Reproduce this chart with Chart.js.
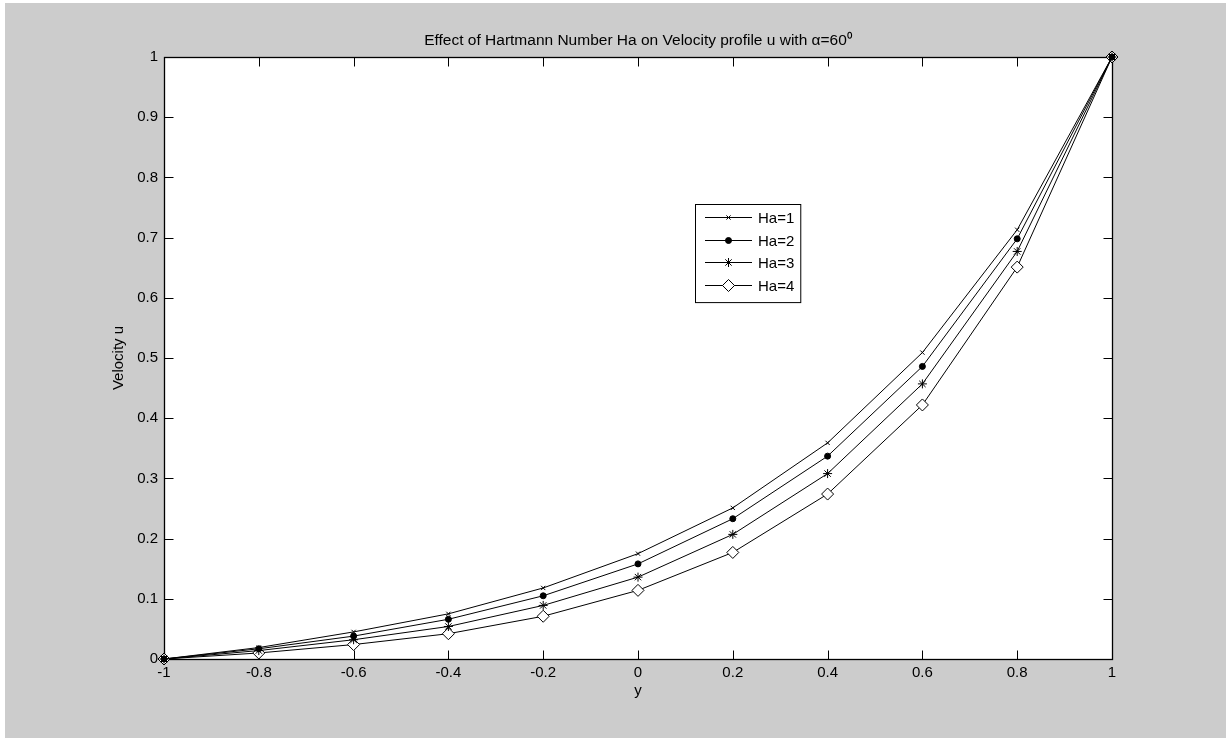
<!DOCTYPE html>
<html>
<head>
<meta charset="utf-8">
<script src="https://cdn.jsdelivr.net/npm/chart.js@4.4.1/dist/chart.umd.min.js"></script>
<style>
  html, body { margin: 0; padding: 0; background: #ffffff; }
  #wrap { position: absolute; left: 0; top: 0; width: 1226px; height: 738px; }
</style>
</head>
<body>
<div id="wrap"><canvas id="myChart"></canvas></div>
<script>
// data
var yPos = [-1, -0.8, -0.6, -0.4, -0.2, 0, 0.2, 0.4, 0.6, 0.8, 1];
var ha1 = [0, 0.019, 0.045, 0.075, 0.118, 0.175, 0.251, 0.359, 0.509, 0.713, 1];
var ha2 = [0, 0.017, 0.038, 0.066, 0.105, 0.158, 0.233, 0.337, 0.486, 0.698, 1];
var ha3 = [0, 0.014, 0.032, 0.054, 0.089, 0.136, 0.207, 0.308, 0.457, 0.677, 1];
var ha4 = [0, 0.010, 0.024, 0.042, 0.071, 0.114, 0.177, 0.274, 0.422, 0.651, 1];
var seriesLabels = ["Ha=1", "Ha=2", "Ha=3", "Ha=4"];
var xTicks = [-1, -0.8, -0.6, -0.4, -0.2, 0, 0.2, 0.4, 0.6, 0.8, 1];
var yTicks = [0, 0.1, 0.2, 0.3, 0.4, 0.5, 0.6, 0.7, 0.8, 0.9, 1];

var FONT = "'Liberation Sans', Arial, Helvetica, sans-serif";
var FS = 15;

const toPoints = function(vals){
    return yPos.map(function(x, i){ return {x: x, y: vals[i]}; });
};

var markers = [
    {pointStyle: "crossRot", radius: 3, bg: "#000000"},
    {pointStyle: "circle", radius: 3, bg: "#000000"},
    {pointStyle: "star", radius: 4.5, bg: "#000000"},
    {pointStyle: "rectRot", radius: 6, bg: "#ffffff"}
];

var allSeries = [ha1, ha2, ha3, ha4];
var datasets = allSeries.map(function(vals, i){
    return {
        label: seriesLabels[i],
        data: toPoints(vals),
        borderColor: "#000000",
        borderWidth: 1,
        tension: 0,
        clip: false,
        pointStyle: markers[i].pointStyle,
        pointRadius: markers[i].radius,
        pointHoverRadius: markers[i].radius,
        pointBackgroundColor: markers[i].bg,
        pointBorderColor: "#000000",
        pointBorderWidth: 1
    };
});

// grey figure + white axes background
const figureBg = {
    id: "figureBg",
    beforeDraw: function(chart){
        var ctx = chart.ctx, a = chart.chartArea;
        ctx.save();
        ctx.fillStyle = "#cccccc";
        ctx.fillRect(5, 3, chart.width - 5, chart.height - 3);
        ctx.fillStyle = "#ffffff";
        ctx.fillRect(a.left, a.top, a.right - a.left, a.bottom - a.top);
        ctx.restore();
    }
};

// matlab style box with inward ticks on all sides
const axesBox = {
    id: "axesBox",
    beforeDatasetsDraw: function(chart){
        var ctx = chart.ctx, a = chart.chartArea;
        var xs = chart.scales.x, ys = chart.scales.y;
        var L = Math.round(a.left) + 0.5, R = Math.round(a.right) + 0.5;
        var T = Math.round(a.top) + 0.5, B = Math.round(a.bottom) + 0.5;
        var tl = 9;
        ctx.save();
        ctx.strokeStyle = "#000000";
        ctx.lineWidth = 1;
        ctx.beginPath();
        xTicks.forEach(function(v){
            var px = Math.round(xs.getPixelForValue(v)) + 0.5;
            ctx.moveTo(px, B); ctx.lineTo(px, B - tl);
            ctx.moveTo(px, T); ctx.lineTo(px, T + tl);
        });
        yTicks.forEach(function(v){
            var py = Math.round(ys.getPixelForValue(v)) + 0.5;
            ctx.moveTo(L, py); ctx.lineTo(L + tl, py);
            ctx.moveTo(R, py); ctx.lineTo(R - tl, py);
        });
        ctx.stroke();
        ctx.lineWidth = 1.3;
        ctx.strokeRect(L, T, R - L, B - T);
        ctx.restore();
    }
};

// legend box inside the axes
const boxLegend = {
    id: "boxLegend",
    afterDraw: function(chart){
        var ctx = chart.ctx;
        var left = 695, top = 204, rowH = 22.7, first = 217;
        ctx.save();
        ctx.font = FS + "px " + FONT;
        var tw = 0;
        seriesLabels.forEach(function(s){ tw = Math.max(tw, ctx.measureText(s).width); });
        var right = 758 + tw + 6;
        var bottom = first + rowH * 3 + 17;
        ctx.fillStyle = "#ffffff";
        ctx.fillRect(left, top, right - left, bottom - top);
        ctx.strokeStyle = "#000000";
        ctx.lineWidth = 1;
        ctx.strokeRect(left + 0.5, top + 0.5, right - left, bottom - top);
        chart.data.datasets.forEach(function(ds, i){
            var y = Math.round(first + rowH * i) + 0.5;
            ctx.beginPath();
            ctx.moveTo(705, y); ctx.lineTo(752, y);
            ctx.strokeStyle = "#000000";
            ctx.lineWidth = 1;
            ctx.stroke();
            ctx.fillStyle = ds.pointBackgroundColor;
            Chart.helpers.drawPoint(ctx, {
                pointStyle: ds.pointStyle,
                radius: ds.pointRadius,
                borderWidth: 1,
                rotation: 0
            }, 728.5, y);
            ctx.fillStyle = "#000000";
            ctx.textAlign = "left";
            ctx.textBaseline = "middle";
            ctx.fillText(ds.label, 758, y + 1);
        });
        ctx.restore();
    }
};

Chart.defaults.font.family = FONT;
Chart.defaults.font.size = FS;
Chart.defaults.color = "#000000";

new Chart("myChart", {
    type: "line",
    data: { datasets: datasets },
    plugins: [figureBg, axesBox, boxLegend],
    options: {
        responsive: true,
        maintainAspectRatio: false,
        animation: false,
        events: [],
        layout: { padding: { left: 0, right: 114, top: 0, bottom: 0 } },
        plugins: {
            legend: { display: false },
            tooltip: { enabled: false },
            title: {
                display: true,
                fullSize: false,
                text: "Effect of Hartmann Number Ha on Velocity profile u with \u03b1=60\u2070",
                font: { size: 15.5, weight: "normal" },
                padding: { top: 31, bottom: 7.4 }
            }
        },
        scales: {
            x: {
                type: "linear",
                min: -1, max: 1,
                grid: { display: false, drawTicks: false },
                border: { display: false },
                afterBuildTicks: function(s){ s.ticks = xTicks.map(function(v){ return {value: v}; }); },
                afterFit: function(s){ s.height = 79; },
                ticks: { padding: 5, maxRotation: 0, autoSkip: false,
                         callback: function(v){ return String(v); } },
                title: { display: true, text: "y", padding: { top: 0, bottom: 38 } }
            },
            y: {
                type: "linear",
                min: 0, max: 1,
                grid: { display: false, drawTicks: false },
                border: { display: false },
                afterBuildTicks: function(s){ s.ticks = yTicks.map(function(v){ return {value: v}; }); },
                afterFit: function(s){ s.width = 164; },
                ticks: { padding: 6, autoSkip: false,
                         callback: function(v){ return String(v); } },
                title: { display: true, text: "Velocity u", padding: { top: 110, bottom: 0 } }
            }
        }
    }
});
</script>
</body>
</html>
